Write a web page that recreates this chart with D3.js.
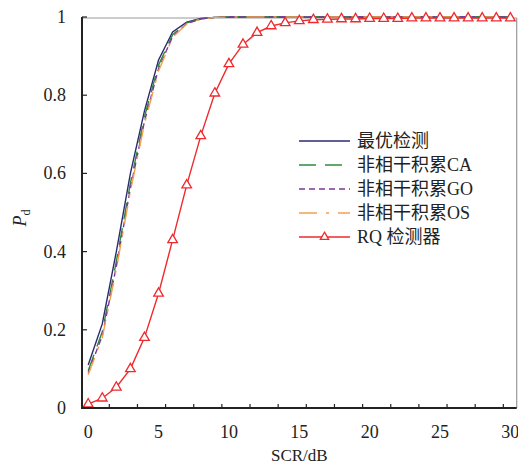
<!DOCTYPE html>
<html>
<head>
<meta charset="utf-8">
<script src="https://cdn.jsdelivr.net/npm/d3@7"></script>
<style>
  body { margin: 0; background: #fff; }
  text { font-family: "Liberation Serif", "Noto Sans CJK SC", serif; }
</style>
</head>
<body>
<svg id="chart" width="518" height="466"></svg>
<script>
// SCR in dB (0..30, step 1)
var scr = [0,1,2,3,4,5,6,7,8,9,10,11,12,13,14,15,16,17,18,19,20,21,22,23,24,25,26,27,28,29,30];

var optimal = [0.11,0.215,0.40,0.60,0.76,0.89,0.962,0.987,0.996,0.999,1,1,1,1,1,1,1,1,1,1,1,1,1,1,1,1,1,1,1,1,1];
var ncCA    = [0.095,0.195,0.375,0.575,0.745,0.877,0.955,0.985,0.995,0.999,1,1,1,1,1,1,1,1,1,1,1,1,1,1,1,1,1,1,1,1,1];
var ncGO    = [0.09,0.185,0.362,0.562,0.733,0.868,0.95,0.983,0.995,0.999,1,1,1,1,1,1,1,1,1,1,1,1,1,1,1,1,1,1,1,1,1];
var ncOS    = [0.085,0.18,0.355,0.555,0.727,0.862,0.948,0.982,0.995,0.999,1,1,1,1,1,1,1,1,1,1,1,1,1,1,1,1,1,1,1,1,1];
var rq      = [0.01,0.025,0.053,0.10,0.18,0.293,0.43,0.57,0.696,0.805,0.88,0.93,0.96,0.977,0.985,0.99,0.993,0.994,0.995,0.995,0.996,0.996,0.996,0.997,0.997,0.997,0.997,0.997,0.997,0.997,0.997];

var seriesNames = ["最优检测", "非相干积累CA", "非相干积累GO", "非相干积累OS", "RQ 检测器"];
var xLabels = [0, 5, 10, 15, 20, 25, 30];
var yLabels = [0, 0.2, 0.4, 0.6, 0.8, 1];

(function() {
  var svg = d3.select("#chart");
  var left = 82, right = 516.7, plotTop = 17, bottom = 408;

  var x = d3.scaleLinear().domain([-0.44, 30.45]).range([left, right]);
  var y = d3.scaleLinear().domain([0, 1]).range([bottom, plotTop]);

  var series = [
    {name: seriesNames[0], values: optimal, color: "#2b2b70", dash: null},
    {name: seriesNames[1], values: ncCA, color: "#2f8a3c", dash: "17,9"},
    {name: seriesNames[2], values: ncGO, color: "#7b3995", dash: "6,4"},
    {name: seriesNames[3], values: ncOS, color: "#f4a04c", dash: "18,9,3,9"},
    {name: seriesNames[4], values: rq, color: "#ee2a2e", dash: null, marker: true}
  ];

  // frame (top/right light)
  svg.append("line").attr("x1", left).attr("x2", right).attr("y1", plotTop + 1).attr("y2", plotTop + 1)
    .attr("stroke", "#9a9a9a").attr("stroke-width", 1.2);
  svg.append("line").attr("x1", right).attr("x2", right).attr("y1", plotTop + 1).attr("y2", bottom)
    .attr("stroke", "#9a9a9a").attr("stroke-width", 1.2);

  var line = d3.line()
    .x(function(d, i) { return x(scr[i]); })
    .y(function(d) { return y(d); });

  var plot = svg.append("g");
  series.forEach(function(s) {
    plot.append("path")
      .attr("d", line(s.values))
      .attr("fill", "none")
      .attr("stroke", s.color)
      .attr("stroke-width", 1.4)
      .attr("stroke-dasharray", s.dash);
  });

  var tri = d3.symbol().type(d3.symbolTriangle).size(40);
  plot.selectAll(".mk").data(rq).enter().append("path")
    .attr("class", "mk")
    .attr("transform", function(d, i) { return "translate(" + x(scr[i]) + "," + y(d) + ")"; })
    .attr("d", tri)
    .attr("fill", "#fff")
    .attr("stroke", "#ee2a2e")
    .attr("stroke-width", 1.3);

  // axes
  var xAxis = svg.append("g").attr("transform", "translate(0," + bottom + ")");
  xAxis.append("line").attr("x1", left - 1).attr("x2", right).attr("stroke", "#222").attr("stroke-width", 2);
  xAxis.selectAll(".tk").data(d3.range(1.5, 30, 2)).enter().append("line")
    .attr("x1", function(d) { return x(d); }).attr("x2", function(d) { return x(d); })
    .attr("y1", 0).attr("y2", -4).attr("stroke", "#222").attr("stroke-width", 1.2);
  xAxis.selectAll(".lb").data(xLabels).enter().append("text")
    .attr("x", function(d) { return x(d); })
    .attr("y", 30)
    .attr("text-anchor", "middle")
    .attr("font-size", 18)
    .attr("fill", "#222")
    .text(function(d) { return d; });

  var yAxis = svg.append("g").attr("transform", "translate(" + left + ",0)");
  yAxis.append("line").attr("y1", plotTop).attr("y2", bottom + 1).attr("stroke", "#222").attr("stroke-width", 2);
  yAxis.selectAll(".tk").data(yLabels).enter().append("line")
    .attr("y1", function(d) { return y(d); }).attr("y2", function(d) { return y(d); })
    .attr("x1", 0).attr("x2", 5).attr("stroke", "#222").attr("stroke-width", 1.2);
  yAxis.selectAll(".lb").data(yLabels).enter().append("text")
    .attr("x", -16)
    .attr("y", function(d) { return y(d) + 6; })
    .attr("text-anchor", "end")
    .attr("font-size", 18)
    .attr("fill", "#222")
    .text(function(d) { return d; });

  // axis titles
  svg.append("text")
    .attr("x", (left + right) / 2).attr("y", 461)
    .attr("text-anchor", "middle").attr("font-size", 17).attr("fill", "#222")
    .text("SCR/dB");

  var yt = svg.append("text")
    .attr("transform", "translate(26,218) rotate(-90)")
    .attr("text-anchor", "middle").attr("font-size", 18).attr("fill", "#222");
  yt.append("tspan").attr("font-style", "italic").text("P");
  yt.append("tspan").attr("font-size", 12).attr("dy", 4).text("d");

  // legend
  var legend = svg.append("g");
  series.forEach(function(s, i) {
    var ly = 141 + i * 24;
    legend.append("line")
      .attr("x1", 299).attr("x2", 350).attr("y1", ly).attr("y2", ly)
      .attr("stroke", s.color).attr("stroke-width", 1.4)
      .attr("stroke-dasharray", s.dash);
    if (s.marker) {
      legend.append("path")
        .attr("transform", "translate(324.5," + ly + ")")
        .attr("d", d3.symbol().type(d3.symbolTriangle).size(30))
        .attr("fill", "#fff").attr("stroke", s.color).attr("stroke-width", 1.3);
    }
    legend.append("text")
      .attr("x", 357).attr("y", ly + 6)
      .attr("font-size", 18).attr("fill", "#222")
      .text(s.name);
  });
})();
</script>
</body>
</html>
